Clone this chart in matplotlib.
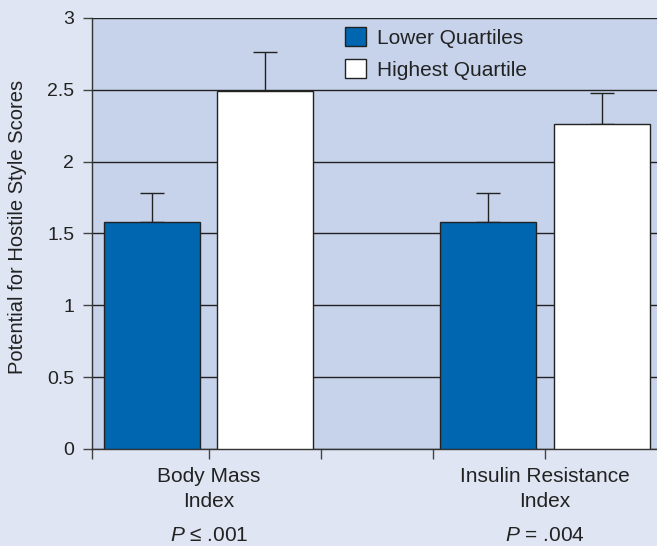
import numpy as np
import matplotlib
matplotlib.use('Agg')
import matplotlib.pyplot as plt

plt.rcParams['font.family'] = ['Liberation Sans', 'DejaVu Sans']
plt.rcParams['mathtext.fontset'] = 'custom'
plt.rcParams['mathtext.it'] = 'Liberation Sans:italic'
plt.rcParams['mathtext.rm'] = 'Liberation Sans'

# mean scores and upper error for each index
categories = ['Body Mass\nIndex', 'Insulin Resistance\nIndex']
p_values = ['$P$ ≤ .001', '$P$ = .004']
lower_mean = [1.58, 1.58]
lower_err = [0.20, 0.20]
highest_mean = [2.49, 2.26]
highest_err = [0.27, 0.22]
series_names = ['Lower Quartiles', 'Highest Quartile']
y_ticks = [0, 0.5, 1, 1.5, 2, 2.5, 3]
y_ticklabels = ['0', '0.5', '1', '1.5', '2', '2.5', '3']

fig_bg = '#dfe5f3'
ax_bg = '#c6d3eb'
blue = '#0066b0'
edge = '#222222'
txt = '#222222'

fig = plt.figure(figsize=(6.57, 5.46), dpi=100, facecolor=fig_bg)
ax = fig.add_axes([0.1405, 0.1777, 0.868, 0.7894])
ax.set_facecolor(ax_bg)

centers = np.array([1, 4])
width = 0.857
offset = 0.505

ax.bar(centers - offset, lower_mean, width, color=blue, edgecolor=edge,
       linewidth=1, label=series_names[0], zorder=3)
ax.bar(centers + offset, highest_mean, width, color='white', edgecolor=edge,
       linewidth=1, label=series_names[1], zorder=3)

# only the upper half of each error bar is shown
ax.errorbar(centers - offset, lower_mean, yerr=[np.zeros(2), lower_err],
            fmt='none', ecolor=edge, elinewidth=1, capsize=8.5, capthick=1, zorder=2)
ax.errorbar(centers + offset, highest_mean, yerr=[np.zeros(2), highest_err],
            fmt='none', ecolor=edge, elinewidth=1, capsize=8.5, capthick=1, zorder=2)

ax.set_ylim(0, 3)
ax.set_xlim(-0.04, 5.05)
ax.set_yticks(y_ticks)
ax.set_yticklabels(y_ticklabels, fontsize=14, color=txt)
ax.yaxis.grid(True, color='#222222', linewidth=1)
ax.set_axisbelow(True)

ax.set_xticks([-0.04, 1, 2, 3, 4])
ax.set_xticklabels(['', categories[0], '', '', categories[1]], fontsize=15,
                   color=txt, linespacing=1.4)
ax.tick_params(axis='x', direction='out', length=7, width=1, color='#444444', pad=6)
ax.tick_params(axis='y', direction='out', length=6.5, width=1, color='#444444', pad=6.5)

for c, p in zip(centers, p_values):
    ax.text(c, -0.605, p, ha='center', va='center', fontsize=15, color=txt)

for s in ['top', 'right']:
    ax.spines[s].set_visible(False)
for s in ['left', 'bottom']:
    ax.spines[s].set_color('#333333')
    ax.spines[s].set_linewidth(1)

ax.set_ylabel('Potential for Hostile Style Scores', fontsize=14.5, color=txt)
ax.yaxis.set_label_coords(-0.1146, 0.514)

leg = ax.legend(loc='upper left', bbox_to_anchor=(0.443, 0.978), frameon=False,
                fontsize=15, handlelength=1.0, handleheight=1.0,
                handletextpad=0.56, labelspacing=0.54, borderaxespad=0, borderpad=0)
for t in leg.get_texts():
    t.set_color(txt)

fig.savefig('out.png', dpi=100, facecolor=fig_bg)
